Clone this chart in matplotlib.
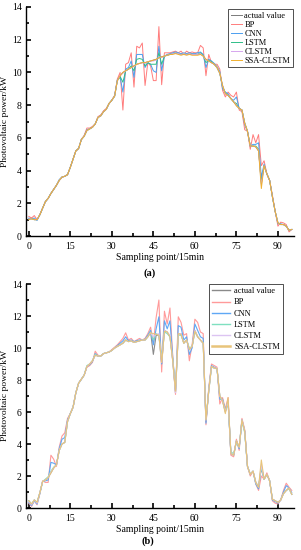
import numpy as np
import matplotlib
matplotlib.use("Agg")
import matplotlib.pyplot as plt
from matplotlib.ticker import MultipleLocator

plt.rcParams['font.family'] = ['Liberation Serif', 'DejaVu Serif']

# --- data: panel (a) ---
a_actual = [1.05, 1.1, 1.0, 1.0, 1.3, 1.7, 2.1, 2.3, 2.6, 2.85,
            3.1, 3.4, 3.6, 3.65, 3.75, 4.2, 4.7, 5.2, 5.35, 5.9,
            6.1, 6.45, 6.55, 6.65, 6.85, 7.25, 7.35, 7.6, 7.75, 8.1,
            8.3, 8.55, 9.5, 9.8, 10.0, 10.1, 10.2, 10.3, 10.4, 10.5,
            10.55, 10.6, 10.6, 10.65, 10.7, 10.75, 10.8, 10.9, 10.95, 11.0,
            11.05, 11.1, 11.15, 11.2, 11.15, 11.1, 11.15, 11.1, 11.15, 11.1,
            11.1, 11.1, 11.15, 11.0, 10.8, 10.7, 10.6, 10.5, 10.3, 9.95,
            9.2, 8.7, 8.6, 8.4, 8.2, 8.0, 7.8, 7.7, 6.9, 6.4,
            5.5, 5.5, 5.45, 5.2, 3.3, 4.3, 3.8, 3.4, 2.4, 1.5,
            0.8, 0.7, 0.7, 0.6, 0.35, 0.4]
a_bp = [1.2, 1.1, 1.25, 1.0, 1.3, 1.7, 2.1, 2.3, 2.6, 2.85,
        3.1, 3.4, 3.6, 3.65, 3.75, 4.2, 4.7, 5.2, 5.35, 5.9,
        6.15, 6.6, 6.6, 6.7, 6.85, 7.3, 7.4, 7.65, 7.8, 8.1,
        8.3, 8.6, 9.6, 10.0, 7.7, 10.5, 10.6, 11.2, 9.1, 11.6,
        11.5, 11.8, 9.2, 10.6, 10.4, 9.5, 9.5, 12.8, 9.25, 11.2,
        11.2, 11.2, 11.25, 11.3, 11.2, 11.3, 11.1, 11.3, 11.2, 11.25,
        11.2, 11.2, 11.65, 11.5, 9.8, 11.1, 10.6, 10.5, 10.5, 10.2,
        8.9, 8.5, 8.8, 8.6, 8.5, 8.8, 7.7, 7.6, 6.5, 6.4,
        5.3, 6.2, 5.7, 6.2, 4.3, 4.6, 3.8, 3.4, 2.5, 1.5,
        0.6, 0.85, 0.8, 0.7, 0.25, 0.4]
a_cnn = [1.1, 1.05, 1.1, 0.95, 1.3, 1.7, 2.1, 2.3, 2.6, 2.85,
         3.1, 3.45, 3.6, 3.65, 3.75, 4.2, 4.7, 5.2, 5.35, 5.9,
         6.1, 6.5, 6.55, 6.65, 6.85, 7.25, 7.35, 7.6, 7.75, 8.1,
         8.3, 8.55, 9.55, 9.7, 8.8, 10.2, 10.3, 10.7, 9.7, 11.1,
         11.1, 11.1, 10.3, 10.6, 10.5, 10.1, 10.0, 11.6, 10.1, 11.0,
         11.1, 11.15, 11.2, 11.25, 11.2, 11.15, 11.2, 11.15, 11.2, 11.15,
         11.15, 11.2, 11.25, 11.1, 10.3, 10.8, 10.7, 10.55, 10.35, 10.05,
         9.0, 8.8, 8.7, 8.4, 8.3, 8.5, 7.8, 7.7, 6.8, 6.4,
         5.5, 5.6, 5.6, 5.7, 3.6, 4.4, 3.8, 3.4, 2.4, 1.5,
         0.75, 0.75, 0.7, 0.6, 0.35, 0.4]
a_lstm = [1.05, 1.05, 1.0, 1.0, 1.3, 1.7, 2.1, 2.3, 2.6, 2.85,
          3.1, 3.4, 3.6, 3.65, 3.75, 4.2, 4.7, 5.2, 5.35, 5.9,
          6.1, 6.45, 6.55, 6.65, 6.85, 7.25, 7.35, 7.6, 7.75, 8.1,
          8.3, 8.55, 9.5, 9.75, 9.4, 10.1, 10.2, 10.4, 10.1, 10.8,
          10.85, 10.8, 10.4, 10.6, 10.5, 10.5, 10.5, 11.2, 10.5, 11.0,
          11.05, 11.1, 11.15, 11.2, 11.15, 11.1, 11.15, 11.1, 11.15, 11.1,
          11.1, 11.1, 11.2, 11.05, 10.6, 10.75, 10.65, 10.5, 10.3, 9.95,
          9.1, 8.75, 8.6, 8.4, 8.2, 8.1, 7.8, 7.7, 6.9, 6.4,
          5.5, 5.5, 5.5, 5.3, 3.2, 4.3, 3.8, 3.4, 2.4, 1.5,
          0.8, 0.7, 0.7, 0.6, 0.35, 0.4]
a_clstm = [1.05, 1.05, 1.0, 1.0, 1.3, 1.7, 2.1, 2.3, 2.6, 2.85,
           3.1, 3.4, 3.6, 3.65, 3.75, 4.2, 4.7, 5.2, 5.35, 5.9,
           6.1, 6.45, 6.55, 6.65, 6.85, 7.25, 7.35, 7.6, 7.75, 8.1,
           8.3, 8.55, 9.5, 9.8, 9.95, 10.1, 10.2, 10.3, 10.35, 10.5,
           10.55, 10.6, 10.55, 10.65, 10.7, 10.7, 10.75, 10.95, 10.9, 11.0,
           11.05, 11.1, 11.15, 11.2, 11.15, 11.1, 11.15, 11.1, 11.15, 11.1,
           11.1, 11.1, 11.15, 11.0, 10.75, 10.7, 10.6, 10.5, 10.3, 9.95,
           9.15, 8.7, 8.6, 8.4, 8.2, 8.0, 7.8, 7.7, 6.9, 6.4,
           5.5, 5.5, 5.45, 5.25, 3.1, 4.3, 3.8, 3.4, 2.4, 1.5,
           0.8, 0.7, 0.7, 0.6, 0.35, 0.4]
a_ssa = [1.0, 1.05, 1.0, 1.0, 1.3, 1.7, 2.1, 2.3, 2.6, 2.85,
         3.1, 3.4, 3.6, 3.65, 3.75, 4.2, 4.7, 5.2, 5.35, 5.9,
         6.1, 6.45, 6.55, 6.65, 6.85, 7.25, 7.35, 7.6, 7.75, 8.1,
         8.3, 8.55, 9.5, 9.8, 10.0, 10.1, 10.2, 10.3, 10.4, 10.5,
         10.55, 10.6, 10.6, 10.65, 10.7, 10.75, 10.8, 10.9, 10.95, 11.0,
         11.05, 11.1, 11.1, 11.15, 11.1, 11.05, 11.1, 11.05, 11.1, 11.05,
         11.05, 11.05, 11.1, 11.0, 10.8, 10.7, 10.6, 10.5, 10.3, 9.95,
         9.2, 8.7, 8.6, 8.4, 8.2, 7.95, 7.8, 7.7, 6.9, 6.4,
         5.5, 5.5, 5.45, 5.2, 2.9, 4.3, 3.8, 3.4, 2.4, 1.5,
         0.8, 0.7, 0.7, 0.6, 0.35, 0.4]

# --- data: panel (b) ---
b_actual = [0.45, 0.2, 0.5, 0.35, 0.95, 1.65, 1.75, 1.9, 2.2, 2.5,
            2.7, 3.6, 4.0, 4.1, 5.4, 5.9, 6.3, 7.2, 7.8, 8.05,
            8.3, 8.85, 9.0, 9.2, 9.55, 9.5, 9.5, 9.65, 9.7, 9.75,
            9.85, 10.0, 10.1, 10.2, 10.3, 10.5, 10.4, 10.45, 10.35, 10.4,
            10.45, 10.5, 10.5, 10.7, 11.0, 9.6, 10.8, 10.8, 9.0, 11.1,
            11.0, 10.7, 9.2, 7.2, 10.9, 10.9, 10.3, 10.5, 9.9, 10.1,
            11.1, 10.7, 10.5, 10.3, 5.4, 7.3, 8.85, 8.75, 8.7, 7.0,
            6.7, 6.0, 6.6, 3.4, 3.3, 4.2, 3.8, 5.5, 4.8, 2.6,
            2.1, 2.3, 1.6, 1.3, 2.5, 1.8, 2.1, 1.7, 0.55, 0.45,
            0.35, 0.5, 0.9, 1.1, 1.25, 0.85]
b_bp = [0.3, 0.1, 0.45, 0.2, 0.9, 1.7, 1.6, 1.6, 3.3, 3.05,
        2.6, 3.8, 4.5, 4.7, 5.6, 5.9, 6.3, 7.2, 7.8, 8.05,
        8.3, 8.8, 8.9, 9.1, 9.8, 9.55, 9.5, 9.65, 9.7, 9.75,
        9.9, 10.05, 10.2, 10.4, 10.6, 10.95, 10.5, 10.6, 10.4, 10.5,
        10.6, 10.5, 10.6, 10.9, 11.3, 10.3, 11.9, 13.0, 8.5, 12.3,
        11.5, 12.5, 9.5, 7.1, 11.95, 11.6, 10.8, 10.9, 9.2, 10.2,
        11.8, 11.6, 11.0, 10.9, 5.2, 7.5, 9.0, 8.9, 8.8, 6.5,
        6.9, 6.2, 6.9, 3.3, 3.2, 4.3, 3.6, 5.6, 4.9, 2.6,
        2.0, 2.3, 1.5, 1.1, 2.0, 1.8, 2.2, 1.7, 0.45, 0.3,
        0.25, 0.5, 1.1, 1.55, 1.3, 1.1]
b_cnn = [0.35, 0.15, 0.45, 0.25, 0.9, 1.65, 1.7, 1.75, 2.85, 2.8,
         2.7, 3.7, 4.3, 4.4, 5.5, 5.9, 6.3, 7.2, 7.8, 8.05,
         8.3, 8.85, 8.95, 9.15, 9.65, 9.5, 9.5, 9.65, 9.7, 9.75,
         9.85, 10.0, 10.15, 10.3, 10.45, 10.7, 10.45, 10.5, 10.4, 10.45,
         10.5, 10.5, 10.55, 10.8, 11.1, 10.2, 11.2, 11.95, 9.0, 11.7,
         11.2, 11.7, 9.4, 7.3, 11.4, 11.3, 10.5, 10.7, 9.6, 10.0,
         11.5, 11.1, 10.7, 10.6, 5.3, 7.4, 8.9, 8.8, 8.7, 6.8,
         6.8, 6.1, 6.7, 3.4, 3.3, 4.2, 3.7, 5.5, 4.8, 2.6,
         2.1, 2.3, 1.5, 1.2, 2.6, 1.8, 2.1, 1.7, 0.5, 0.4,
         0.3, 0.5, 1.0, 1.4, 1.25, 0.95]
b_lstm = [0.45, 0.25, 0.5, 0.35, 0.95, 1.65, 1.8, 1.95, 2.3, 2.55,
          2.7, 3.6, 4.0, 4.1, 5.4, 5.9, 6.3, 7.2, 7.8, 8.05,
          8.3, 8.9, 9.0, 9.2, 9.6, 9.5, 9.5, 9.65, 9.7, 9.75,
          9.85, 10.0, 10.1, 10.2, 10.3, 10.5, 10.4, 10.45, 10.35, 10.4,
          10.45, 10.5, 10.5, 10.7, 11.0, 10.5, 10.9, 10.8, 9.3, 11.0,
          10.9, 10.7, 9.3, 7.4, 10.8, 10.8, 10.3, 10.5, 10.0, 10.1,
          11.0, 10.7, 10.5, 10.3, 5.6, 7.3, 8.8, 8.75, 8.7, 7.0,
          6.7, 6.1, 6.6, 3.5, 3.4, 4.1, 3.8, 5.4, 4.7, 2.6,
          2.1, 2.3, 1.6, 1.3, 2.6, 1.8, 2.1, 1.7, 0.55, 0.45,
          0.35, 0.5, 0.9, 1.1, 1.2, 0.85]
b_clstm = [0.4, 0.2, 0.5, 0.3, 0.95, 1.65, 1.75, 1.9, 2.25, 2.5,
           2.7, 3.6, 4.0, 4.1, 5.4, 5.9, 6.3, 7.2, 7.8, 8.05,
           8.3, 8.85, 9.0, 9.2, 9.55, 9.5, 9.5, 9.65, 9.7, 9.75,
           9.85, 10.0, 10.1, 10.2, 10.3, 10.5, 10.4, 10.45, 10.35, 10.4,
           10.45, 10.5, 10.5, 10.7, 10.95, 10.7, 10.85, 10.9, 9.1, 11.1,
           11.0, 10.8, 9.2, 7.2, 10.9, 10.9, 10.3, 10.5, 9.9, 10.1,
           11.1, 10.7, 10.5, 10.3, 5.5, 7.3, 8.85, 8.75, 8.7, 7.0,
           6.7, 6.0, 6.7, 3.4, 3.3, 4.2, 3.8, 5.5, 4.8, 2.6,
           2.1, 2.3, 1.6, 1.3, 2.7, 1.8, 2.1, 1.7, 0.55, 0.45,
           0.35, 0.5, 0.9, 1.1, 1.25, 0.85]
b_ssa = [0.45, 0.25, 0.5, 0.35, 0.95, 1.65, 1.75, 1.9, 2.2, 2.5,
         2.7, 3.6, 4.0, 4.1, 5.4, 5.9, 6.3, 7.2, 7.8, 8.05,
         8.3, 8.85, 9.0, 9.2, 9.55, 9.5, 9.5, 9.65, 9.7, 9.75,
         9.85, 10.0, 10.1, 10.2, 10.3, 10.5, 10.4, 10.45, 10.35, 10.4,
         10.45, 10.5, 10.5, 10.7, 10.95, 10.9, 10.85, 10.8, 9.1, 11.05,
         11.0, 10.7, 9.2, 7.3, 10.9, 10.85, 10.3, 10.5, 9.9, 10.1,
         11.05, 10.7, 10.5, 10.3, 5.5, 7.3, 8.85, 8.75, 8.7, 7.0,
         6.7, 5.9, 6.9, 3.4, 3.3, 4.2, 3.8, 5.5, 4.8, 2.6,
         2.1, 2.3, 1.6, 1.3, 3.0, 1.8, 2.1, 1.7, 0.55, 0.45,
         0.35, 0.5, 0.9, 1.1, 1.25, 0.85]

labels = ["actual value", "BP", "CNN", "LSTM", "CLSTM", "SSA-CLSTM"]
colors_a = ["#7a7a7a", "#ff7c7c", "#4b9ff0", "#2fbf88", "#d6a6ee", "#f0b030"]
colors_b = ["#8a8a8a", "#ff9a9a", "#5fa8f5", "#7fe0c0", "#dcc4f2", "#e8c47a"]
xlab_ticks = [0, 15, 30, 45, 60, 75, 90]


def draw_panel(ax, series, colors, lw):
    x = np.arange(len(series[0]))
    for s, c, lab in zip(series, colors, labels):
        ax.plot(x, s, color=c, lw=lw, label=lab)
    ax.set_xlim(-1.0, 95.8)
    ax.set_ylim(0, 14)
    ax.set_xticks(xlab_ticks)
    ax.xaxis.set_minor_locator(MultipleLocator(7.5))
    ax.yaxis.set_major_locator(MultipleLocator(2))
    ax.yaxis.set_minor_locator(MultipleLocator(1))
    ax.tick_params(which='both', direction='in', labelsize=7, width=1.2)
    ax.tick_params(axis='x', pad=4)
    ax.tick_params(axis='y', pad=3)
    ax.tick_params(which='major', length=3.5)
    ax.tick_params(which='minor', length=2.5)
    for sp in ['top', 'right']:
        ax.spines[sp].set_visible(False)
    for sp in ['left', 'bottom']:
        ax.spines[sp].set_linewidth(1.0)
    ax.set_xlabel("Sampling point/15min", fontsize=7, labelpad=2)
    ax.set_ylabel("Photovoltaic power/kW", fontsize=6.8, labelpad=2)


fig = plt.figure(figsize=(3.01, 5.5), dpi=100)

ax1 = fig.add_axes([26 / 301, 1 - 236 / 550, 268 / 301, 229 / 550])
draw_panel(ax1, [a_actual, a_bp, a_cnn, a_lstm, a_clstm, a_ssa], colors_a, 0.7)
leg1 = ax1.legend(loc='upper right', bbox_to_anchor=(0.995, 0.99), fontsize=6,
                  handlelength=1.3, handletextpad=0.3, labelspacing=0.12,
                  borderpad=0.3, borderaxespad=0.0, fancybox=False, framealpha=1)
leg1.get_frame().set_edgecolor('#333333')
leg1.get_frame().set_linewidth(0.6)

ax2 = fig.add_axes([26 / 301, 1 - 508 / 550, 268 / 301, 224 / 550])
draw_panel(ax2, [b_actual, b_bp, b_cnn, b_lstm, b_clstm, b_ssa], colors_b, 0.8)
leg2 = ax2.legend(loc='upper right', bbox_to_anchor=(0.96, 1.0), fontsize=6,
                  handlelength=2.1, handletextpad=0.5, labelspacing=0.38,
                  borderpad=0.4, borderaxespad=0.0, fancybox=False, framealpha=1)
leg2.get_frame().set_edgecolor('#333333')
leg2.get_frame().set_linewidth(0.6)
for ln in leg2.get_lines():
    ln.set_linewidth(1.0)
leg2.get_lines()[-1].set_linewidth(1.8)

fig.text(150 / 301, 1 - 273 / 550, "(a)", fontsize=7.5, fontweight='bold',
         ha='center', va='center')
fig.text(148 / 301, 1 - 541 / 550, "(b)", fontsize=7.5, fontweight='bold',
         ha='center', va='center')

fig.savefig("out.png", dpi=100)
